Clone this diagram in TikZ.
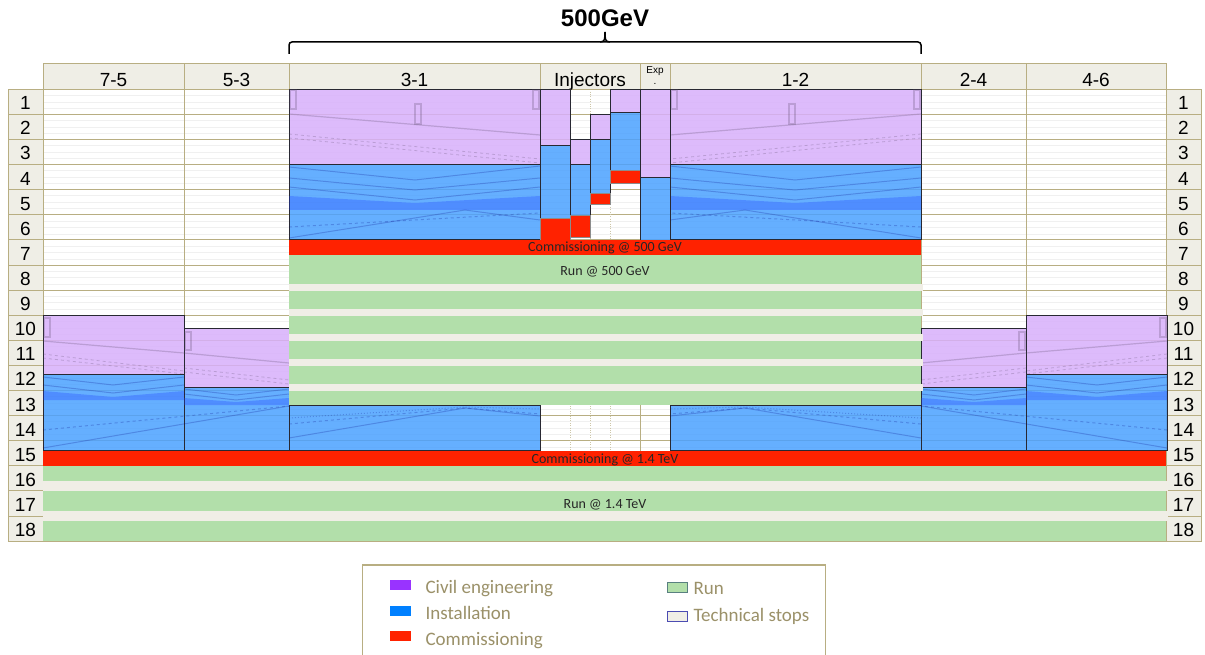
\documentclass[tikz,border=0pt]{standalone}
\usepackage{fontspec}
\setmainfont{Liberation Sans}
\newfontfamily\calfont{Carlito}
\definecolor{gridc}{RGB}{184,174,130}
\definecolor{headc}{RGB}{239,238,230}
\definecolor{civilc}{RGB}{216,176,251}
\definecolor{instc}{RGB}{75,161,255}
\definecolor{commc}{RGB}{255,34,0}
\definecolor{runc}{RGB}{178,223,170}
\definecolor{stopc}{RGB}{240,238,230}
\definecolor{legc}{RGB}{155,145,105}
\definecolor{edgec}{RGB}{40,40,50}
\definecolor{civkey}{RGB}{153,51,255}
\definecolor{inskey}{RGB}{0,128,255}
\begin{document}
\begin{tikzpicture}[x=1pt, y=-1pt,
	gl/.style={draw=gridc, line width=1pt},
	cell/.style={gl, fill=headc},
	hd/.style={font=\fontsize{19}{19}\selectfont, anchor=base},
	civ/.style={fill=civilc, fill opacity=0.85, draw=edgec, line width=0.9pt},
	ins/.style={fill=instc, fill opacity=0.85, draw=edgec, line width=0.9pt},
	com/.style={fill=commc, draw=black!45, line width=0.6pt},
	gp/.style={draw=black!60!civilc, opacity=0.25, line width=1.2pt},
	gb/.style={draw=blue!50!black, opacity=0.22, line width=1pt},
	band/.style={fill=blue!60!instc, opacity=0.3},
	bar/.style={font=\calfont\fontsize{14}{14}\selectfont, anchor=base, text=black!85},
	leg/.style={font=\calfont\fontsize{19}{19}\selectfont, text=legc, anchor=base west}]
	\useasboundingbox[fill=white] (0,0) rectangle (1205,655);
	\foreach \r in {1,...,18}{
		\pgfmathsetmacro\yt{89.3+25.1*(\r-1)}
		\foreach \d in {6,12.5,19} \draw[black!6] (43,\yt+\d) -- (1166,\yt+\d);
		\draw[cell] (8,\yt) rectangle (43,\yt+25.1);
		\draw[cell] (1166,\yt) rectangle (1201,\yt+25.1);
		\node[hd] (l\r) at (25.5,\yt+20.5) {\r};
		\node[hd] (r\r) at (1183.5,\yt+20.5) {\r};
		\draw[gl] (43,\yt) -- (1166,\yt);
	}
	\draw[gl] (43,541.1) -- (1166,541.1);
	\foreach \x in {570,590,610} \draw[gridc!70, dotted] (\x,89.3) -- (\x,450.7);
	\foreach \x in {184,289,540,640,670,921,1026} \draw[gl] (\x,89.3) -- (\x,541.1);
	\foreach \a/\b/\t [count=\i] in {43/184/7-5, 184/289/5-3, 289/540/3-1, 540/640/Injectors, 670/921/1-2, 921/1026/2-4, 1026/1166/4-6}{
		\draw[cell] (\a,64) rectangle (\b,89.3);
		\node[hd] (head\i) at ({(\a+\b)/2},86.5) {\t};
	}
	\draw[cell] (640,64) rectangle (670,89.3);
	\node[font=\fontsize{10}{10}\selectfont] (exp) at (655,71) {Exp};
	\node[font=\fontsize{10}{10}\selectfont] (expdot) at (655,84) {.};
	\foreach \m/\o in {1/0,-1/1210}{
	\begin{scope}[shift={(\o,0)}, xscale=\m]
		\draw[civ] (289,89.3) rectangle (540,164.6);
		\draw[ins] (289,164.6) rectangle (540,239.9);
		\draw[gp] (290,90) rectangle (296,109) (415,104) rectangle (421,124) (533,90) rectangle (539,109);
		\draw[gp] (289,114) -- (540,135);
		\draw[gp, dashed, line width=0.8pt] (289,134) -- (540,159) (289,138) -- (540,163);
		\fill[band] (289,196) -- (415,203) -- (540,196) -- (540,210) -- (289,210) -- cycle;
		\draw[gb] (289,167) -- (415,180) -- (540,166) (289,178) -- (415,190) -- (540,178) (289,187) -- (415,200) -- (540,187);
		\draw[gb, dashed] (289,227) -- (540,213);
		\draw[gb] (289,238) -- (465,210) -- (540,220);
		\draw[ins] (289,405) rectangle (540,450.7);
		\draw[gb, dotted] (289,418) -- (465,407) -- (540,409);
		\draw[gb, dashed] (289,424) -- (465,408) -- (540,414);
		\draw[gb] (289,438) -- (465,408) -- (540,416);
		\draw[civ] (43,315.2) rectangle (184,374);
		\draw[ins] (43,374) rectangle (184,450.7);
		\draw[civ] (184,328) rectangle (289,387);
		\draw[ins] (184,387) rectangle (289,450.7);
		\draw[gp] (44,318) rectangle (50,337) (185,332) rectangle (191,350);
		\draw[gp] (43,341) -- (184,353) -- (289,363);
		\draw[gp, dashed, line width=0.8pt] (43,354) -- (184,371) (43,358) -- (184,374) (184,368) -- (289,380) (184,372) -- (289,384);
		\fill[band] (43,391) -- (113,397) -- (184,391) -- (184,400) -- (43,400) -- cycle;
		\fill[band] (184,398) -- (236,402) -- (289,398) -- (289,405) -- (184,405) -- cycle;
		\draw[gb] (43,377) -- (113,385) -- (184,377) (43,385) -- (113,393) -- (184,385);
		\draw[gb] (184,389) -- (236,395) -- (289,389) (184,394) -- (236,400) -- (289,394);
		\draw[gb, dashed] (43,430) -- (289,406);
		\draw[gb] (43,448) -- (289,406);
	\end{scope}}
	\draw[civ] (540,89.3) rectangle (570,145);
	\draw[ins] (540,145) rectangle (570,218);
	\draw[com] (540,218) rectangle (570,240);
	\draw[civ] (570,139.5) rectangle (590,164.6);
	\draw[ins] (570,164.6) rectangle (590,215);
	\draw[com] (570,215) rectangle (590,237);
	\draw[civ] (590,114.4) rectangle (610,139.5);
	\draw[ins] (590,139.5) rectangle (610,193);
	\draw[com] (590,193) rectangle (610,204);
	\draw[civ] (610,89.3) rectangle (640,112.5);
	\draw[ins] (610,112.5) rectangle (640,170);
	\draw[com] (610,170) rectangle (640,183);
	\draw[civ] (640,89.3) rectangle (670,177.3);
	\draw[ins] (640,177.3) rectangle (670,240);
	\fill[commc] (289,239.9) rectangle (921,255);
	\node[bar] (c500) at (605,251.5) {Commissioning @ 500 GeV};
	\fill[runc] (289,255) rectangle (921,405);
	\foreach \k in {0,...,4} \fill[stopc] (289,284+25*\k) rectangle (923,291+25*\k);
	\node[bar] (r500) at (605,276) {Run @ 500 GeV};
	\fill[commc] (43,450.7) rectangle (1166,465.8);
	\node[bar] (c14) at (605,463.5) {Commissioning @ 1.4 TeV};
	\fill[runc] (43,465.8) rectangle (1166,541.1);
	\fill[stopc] (43,481) rectangle (1168,490.9);
	\fill[stopc] (43,511) rectangle (1168,521);
	\node[bar] (r14) at (605,508.5) {Run @ 1.4 TeV};
	\draw[line width=1.5pt, rounded corners=3pt] (289,54) -- (289,42) -- (921,42) -- (921,54);
	\draw[line width=1.5pt] (600,42) .. controls (605,42) and (605,39) .. (605,32);
	\draw[line width=1.5pt] (610,42) .. controls (605,42) and (605,39) .. (605,32);
	\node[font=\bfseries\fontsize{24}{24}\selectfont, anchor=base] (title) at (605,26.5) {500GeV};
	\draw[draw=gridc, line width=1.2pt] (362.5,655) -- (362.5,565) -- (825.5,565) -- (825.5,655);
	\fill[civkey] (390,580) rectangle (411,590);
	\fill[inskey] (390,606) rectangle (411,615.5);
	\fill[commc] (390,631) rectangle (411,641);
	\draw[fill=runc, draw=gray!70!teal, line width=0.8pt] (667,582) rectangle (687,592);
	\draw[fill=stopc, draw=gray!60!blue, line width=0.8pt] (667,611) rectangle (687,621);
	\node[leg] (lciv) at (422,593) {Civil engineering};
	\node[leg] (lins) at (422,619) {Installation};
	\node[leg] (lcom) at (422,645) {Commissioning};
	\node[leg] (lrun) at (690,594) {Run};
	\node[leg] (lstop) at (690,621.5) {Technical stops};
\end{tikzpicture}
\end{document}
